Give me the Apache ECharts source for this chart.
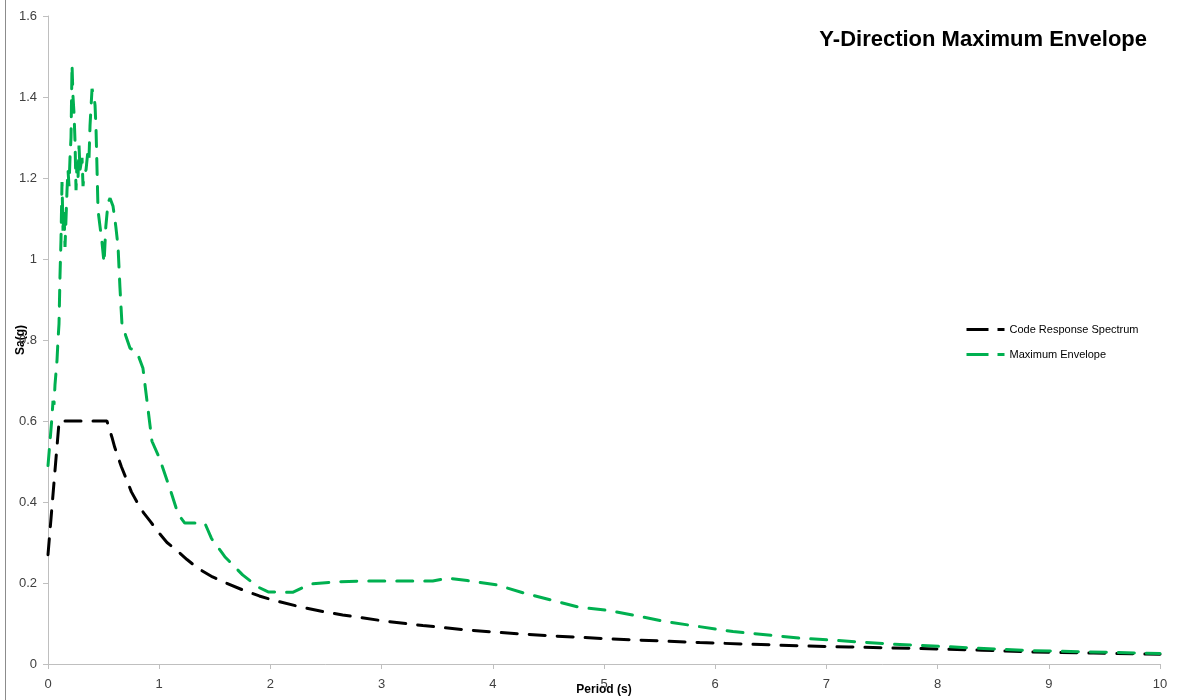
<!DOCTYPE html>
<html>
<head>
<meta charset="utf-8">
<script src="https://cdn.jsdelivr.net/npm/echarts@6/dist/echarts.min.js"></script>
<style>
html,body{margin:0;padding:0;background:#fff;}
#chart{width:1177px;height:700px;}
</style>
</head>
<body>
<div id="chart"></div>
<script>
var chartTitle = 'Y-Direction Maximum Envelope';
var seriesNames = ['Code Response Spectrum', 'Maximum Envelope'];
var xTicks = [0,1,2,3,4,5,6,7,8,9,10];
var yTicks = [0,0.2,0.4,0.6,0.8,1,1.2,1.4,1.6];

var codeT  = [0, 0.1, 0.53, 0.575, 0.6, 0.66, 0.7, 0.75, 0.8, 0.86, 0.92, 1.0, 1.07, 1.16, 1.25, 1.35, 1.48, 1.6, 1.75, 1.9, 2.02, 2.27, 2.5, 2.65, 3.0, 3.37, 3.77, 4.0, 4.49, 5.05, 5.5, 5.86, 6.3, 6.76, 7.2, 7.55, 8.0, 8.4, 8.83, 9.4, 10];
var codeSa = [0.27, 0.6, 0.6, 0.56, 0.535, 0.487, 0.46, 0.425, 0.40, 0.373, 0.352, 0.323, 0.30, 0.28, 0.258, 0.236, 0.215, 0.2, 0.183, 0.168, 0.158, 0.141, 0.128, 0.121, 0.107, 0.095, 0.084, 0.079, 0.07, 0.062, 0.057, 0.053, 0.049, 0.045, 0.042, 0.04, 0.037, 0.034, 0.03, 0.027, 0.024];

var envT  = [0, 0.018, 0.036, 0.045, 0.054, 0.063, 0.081, 0.09, 0.099, 0.108, 0.117, 0.126, 0.135, 0.144, 0.153, 0.162, 0.171, 0.18, 0.189, 0.198, 0.207, 0.216, 0.225, 0.234, 0.243, 0.252, 0.261, 0.27, 0.279, 0.288, 0.306, 0.315, 0.324, 0.342, 0.36, 0.369, 0.378, 0.396, 0.414, 0.423, 0.432, 0.45, 0.468, 0.486, 0.504, 0.52, 0.54, 0.558, 0.585, 0.61, 0.63, 0.647, 0.665, 0.70, 0.737, 0.80, 0.854, 0.89, 0.935, 1.0, 1.1, 1.17, 1.23, 1.41, 1.47, 1.59, 1.75, 1.89, 1.98, 2.2, 2.3, 2.38, 2.6, 2.83, 3.46, 3.6, 3.77, 4.04, 4.27, 4.58, 4.78, 5.05, 5.57, 6.16, 6.76, 7.6, 8.83, 10];
var envSa = [0.49, 0.55, 0.61, 0.65, 0.64, 0.69, 0.75, 0.80, 0.84, 0.96, 1.05, 1.19, 1.07, 1.12, 1.03, 1.10, 1.17, 1.22, 1.18, 1.25, 1.30, 1.48, 1.40, 1.36, 1.29, 1.17, 1.24, 1.20, 1.28, 1.22, 1.25, 1.18, 1.21, 1.22, 1.27, 1.25, 1.33, 1.42, 1.40, 1.38, 1.32, 1.12, 1.08, 1.04, 0.99, 1.08, 1.14, 1.15, 1.13, 1.08, 1.03, 0.93, 0.84, 0.81, 0.78, 0.77, 0.73, 0.65, 0.55, 0.51, 0.43, 0.37, 0.348, 0.348, 0.31, 0.265, 0.22, 0.19, 0.178, 0.177, 0.19, 0.198, 0.203, 0.205, 0.205, 0.212, 0.206, 0.195, 0.176, 0.154, 0.14, 0.132, 0.104, 0.08, 0.064, 0.049, 0.033, 0.026];

function pairs(xs, ys){ return xs.map(function(x,i){ return [x, ys[i]]; }); }

var chart = echarts.init(document.getElementById('chart'), null, {renderer:'canvas'});
var fontFam = '"Liberation Sans", Arial, sans-serif';
chart.setOption({
  animation: false,
  backgroundColor: '#ffffff',
  title: {
    text: chartTitle,
    right: 25, top: 24,
    textStyle: {fontFamily: fontFam, fontSize: 22, fontWeight: 'bold', color: '#000'}
  },
  legend: {
    orient: 'vertical',
    left: 960, top: 319,
    itemWidth: 38, itemHeight: 12, itemGap: 14,
    data: seriesNames,
    itemStyle: {opacity: 0},
    lineStyle: {type: [22, 9], width: 3, cap: 'butt'},
    textStyle: {fontFamily: fontFam, fontSize: 11, color: '#000'}
  },
  grid: {left: 48, right: 17, top: 16, bottom: 36, containLabel: false, outerBoundsMode: 'none'},
  graphic: [{
    type: 'line', shape: {x1: 5.5, y1: 0, x2: 5.5, y2: 700},
    style: {stroke: '#8c8c8c', lineWidth: 1}, silent: true
  }],
  xAxis: {
    type: 'value', min: xTicks[0], max: xTicks[xTicks.length-1], interval: 1,
    name: 'Period (s)', nameLocation: 'middle', nameGap: 20, nameMoveOverlap: false,
    nameTextStyle: {fontFamily: fontFam, fontSize: 12, fontWeight: 'bold', color: '#000'},
    axisLine: {show: true, lineStyle: {color: '#BFBFBF', width: 1}},
    axisTick: {show: true, inside: false, length: 5, lineStyle: {color: '#BFBFBF'}},
    axisLabel: {fontFamily: fontFam, fontSize: 13, color: '#404040', margin: 14},
    splitLine: {show: false}
  },
  yAxis: {
    type: 'value', min: yTicks[0], max: yTicks[yTicks.length-1], interval: 0.2,
    name: 'Sa(g)', nameLocation: 'middle', nameGap: 21, nameRotate: 90, nameMoveOverlap: false,
    nameTextStyle: {fontFamily: fontFam, fontSize: 12, fontWeight: 'bold', color: '#000'},
    axisLine: {show: true, lineStyle: {color: '#BFBFBF', width: 1}},
    axisTick: {show: true, inside: false, length: 5, lineStyle: {color: '#BFBFBF'}},
    axisLabel: {fontFamily: fontFam, fontSize: 13, color: '#404040', margin: 11,
      formatter: function(v){ return String(Math.round(v*10)/10); }},
    splitLine: {show: false}
  },
  series: [{
    name: seriesNames[0], type: 'line', symbol: 'none', smooth: false,
    data: pairs(codeT, codeSa),
    itemStyle: {color: '#000000'},
    lineStyle: {color: '#000000', width: 3, type: [16, 12], cap: 'round'}
  }, {
    name: seriesNames[1], type: 'line', symbol: 'none', smooth: false,
    data: pairs(envT, envSa),
    itemStyle: {color: '#00B050'},
    lineStyle: {color: '#00B050', width: 3, type: [16, 12], cap: 'round'}
  }]
});
</script>
</body>
</html>
